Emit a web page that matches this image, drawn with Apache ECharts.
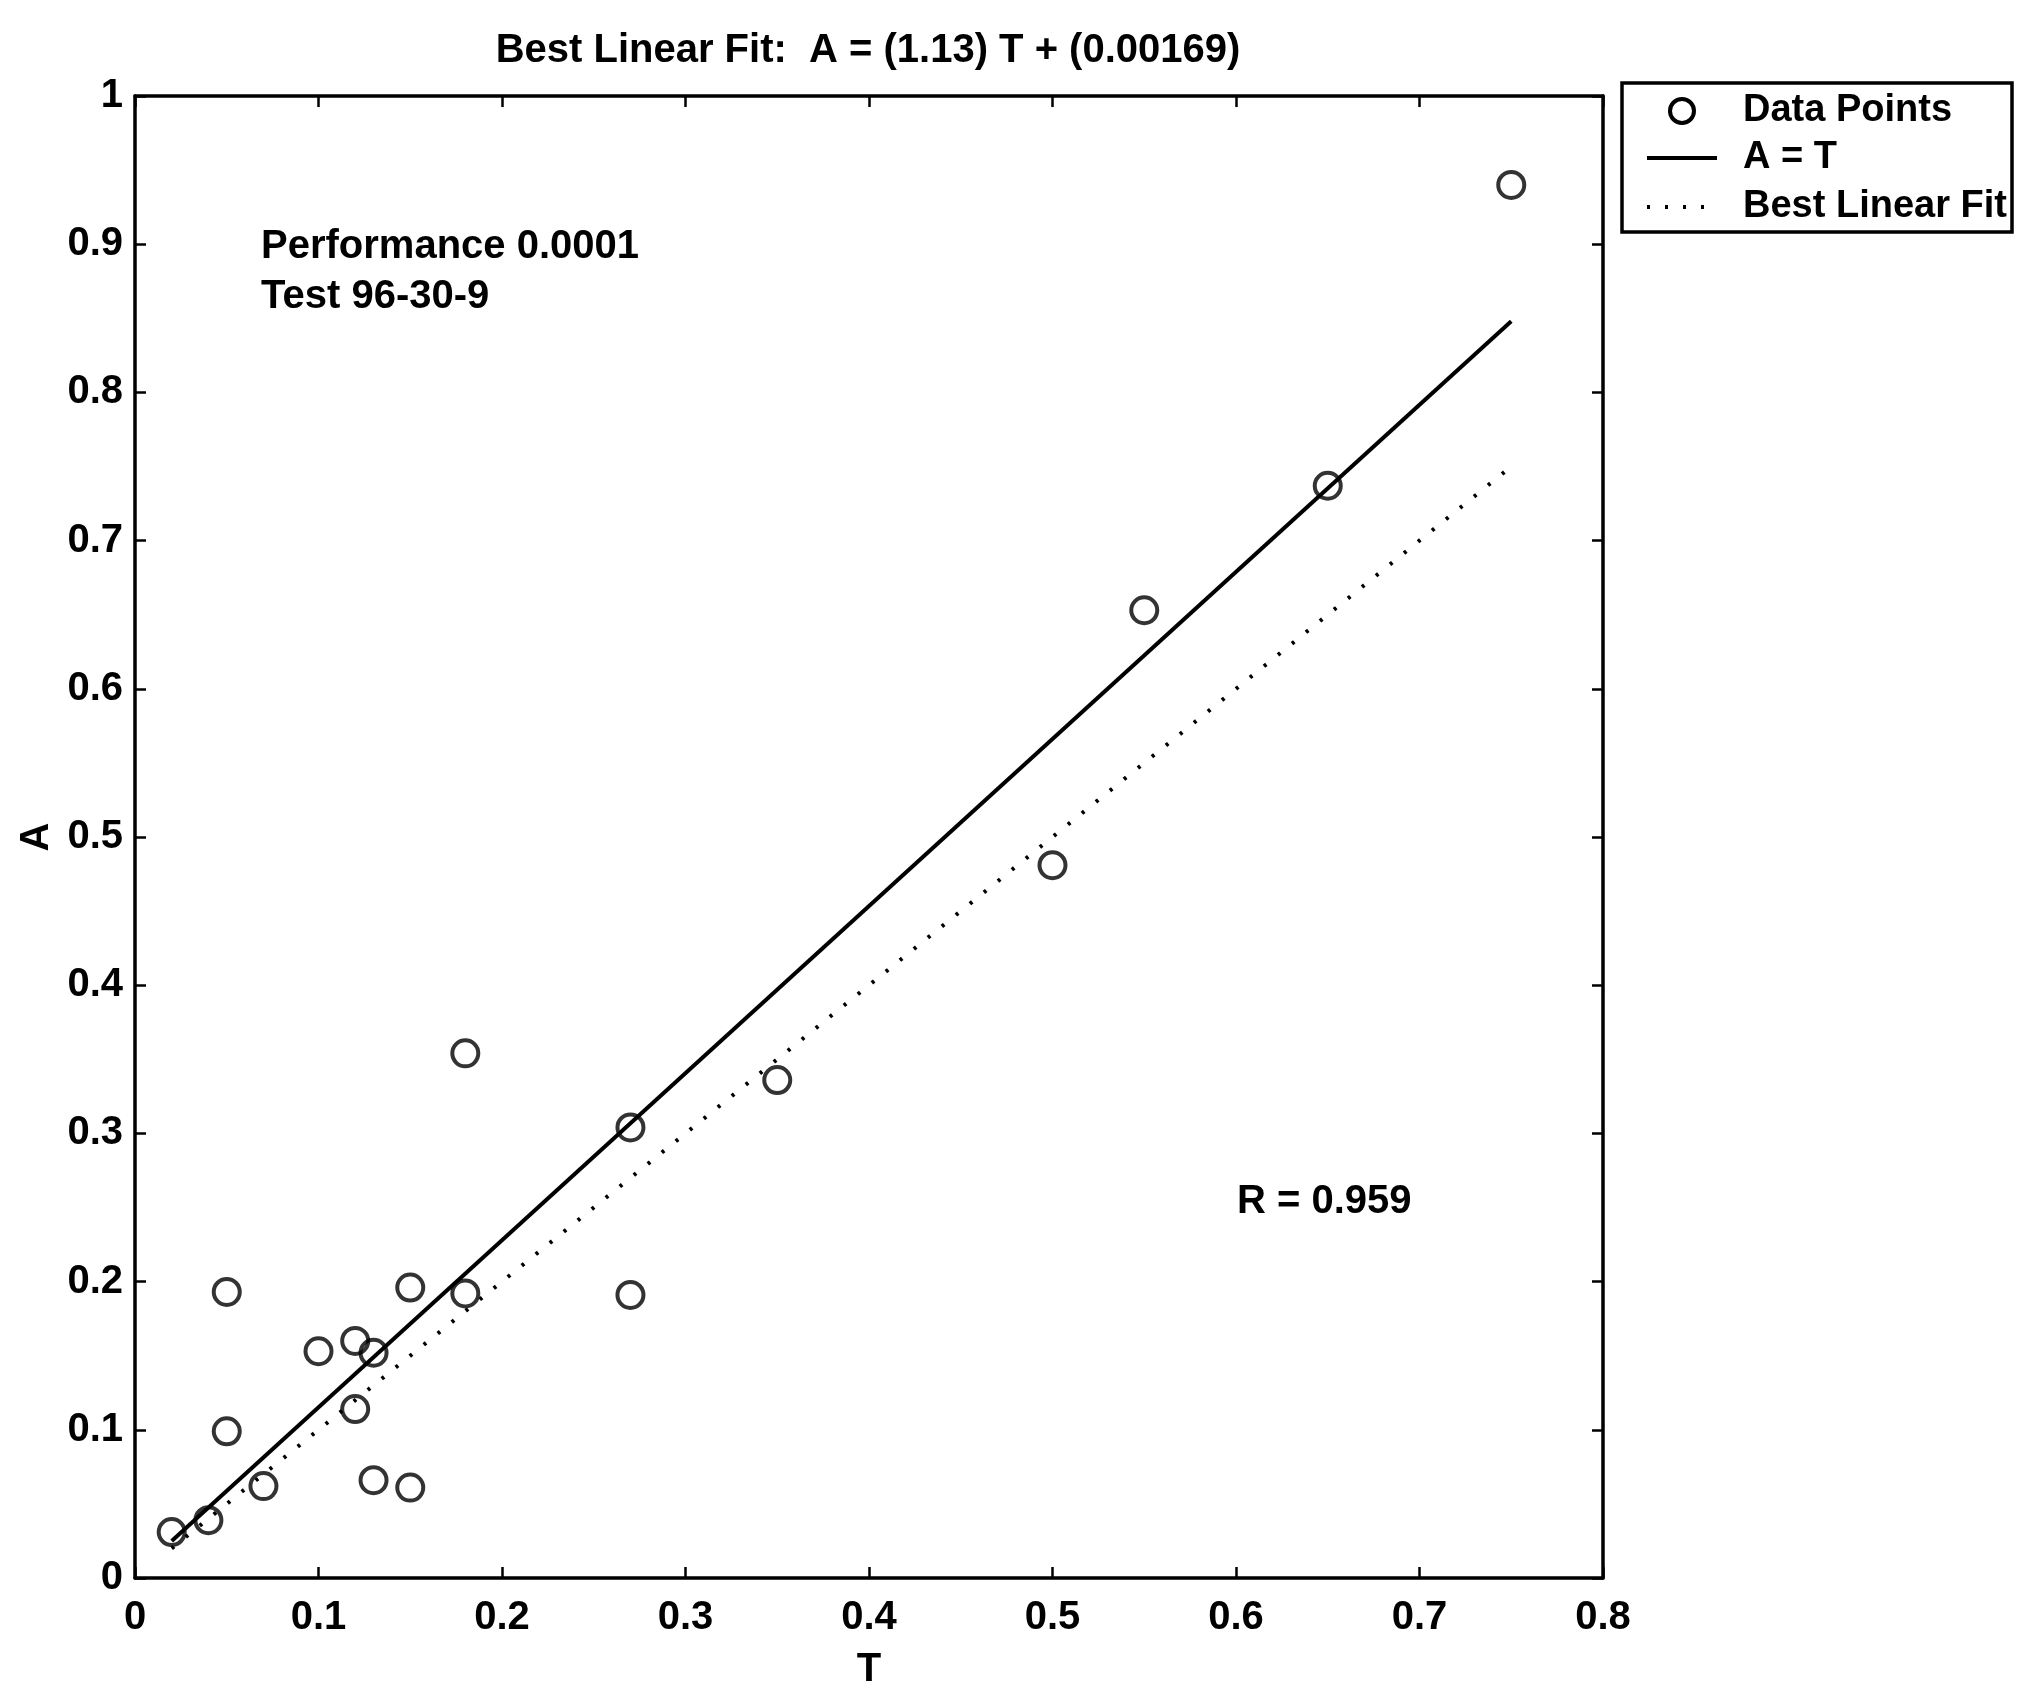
<!DOCTYPE html>
<html>
<head>
<meta charset="utf-8">
<script src="https://cdn.jsdelivr.net/npm/echarts@6/dist/echarts.min.js"></script>
<style>
  html, body { margin: 0; padding: 0; background: #fff; }
  #chart { width: 2036px; height: 1698px; }
</style>
</head>
<body>
<div id="chart"></div>
<script>
// values
var tValues = [0.02, 0.04, 0.05, 0.05, 0.07, 0.10, 0.12, 0.13, 0.12, 0.13, 0.15, 0.15, 0.18, 0.18, 0.27, 0.27, 0.35, 0.50, 0.55, 0.65, 0.75];
var aValues = [0.031, 0.039, 0.193, 0.099, 0.062, 0.153, 0.160, 0.152, 0.114, 0.066, 0.196, 0.061, 0.354, 0.192, 0.304, 0.191, 0.336, 0.481, 0.653, 0.737, 0.940];
// solid line (labelled "A = T" in the legend) end points
var solidT = [0.02, 0.75];
var solidA = [0.025, 0.848];
// dotted line (labelled "Best Linear Fit") end points
var dottedT = [0.02, 0.75];
var dottedA = [0.02, 0.75];

var xTicks = ["0", "0.1", "0.2", "0.3", "0.4", "0.5", "0.6", "0.7", "0.8"];
var yTicks = ["0", "0.1", "0.2", "0.3", "0.4", "0.5", "0.6", "0.7", "0.8", "0.9", "1"];
var legendNames = ["Data Points", "A = T", "Best Linear Fit"];

var FONT = "Liberation Sans";
var TXT = "bold 40px '" + FONT + "'";
var LEGEND_TXT = "bold 38px '" + FONT + "'";

function pairs(xs, ys) {
  return xs.map(function (x, i) { return [x, ys[i]]; });
}

function boxAxis(extra) {
  var base = {
    type: "value",
    axisLine: { show: true, onZero: false, lineStyle: { color: "#000", width: 3.5 } },
    axisTick: { show: true, inside: true, length: 11, lineStyle: { color: "#000", width: 2.5 } },
    splitLine: { show: false },
    axisLabel: { show: false }
  };
  return Object.assign(base, extra);
}

var labelStyle = { fontFamily: FONT, fontSize: 40, fontWeight: "bold", color: "#000" };

// legend drawn by hand: box, marker / line samples, texts
var legendRows = [111, 158, 207];
var legendGraphics = [
  {
    type: "rect",
    shape: { x: 1622, y: 83, width: 390, height: 149 },
    style: { fill: "none", stroke: "#000", lineWidth: 3.5 }
  },
  {
    type: "circle",
    shape: { cx: 1682, cy: legendRows[0], r: 12 },
    style: { fill: "none", stroke: "#000", lineWidth: 4 }
  },
  {
    type: "line",
    shape: { x1: 1647, y1: legendRows[1], x2: 1717, y2: legendRows[1] },
    style: { stroke: "#000", lineWidth: 4 }
  },
  {
    type: "line",
    shape: { x1: 1647, y1: legendRows[2], x2: 1717, y2: legendRows[2] },
    style: { stroke: "#000", lineWidth: 4, lineDash: [3, 15] }
  }
].concat(legendNames.map(function (name, i) {
  return {
    type: "text",
    x: 1743, y: legendRows[i],
    style: { text: name, font: LEGEND_TXT, fill: "#000", verticalAlign: "middle" }
  };
}));

var chart = echarts.init(document.getElementById("chart"));
chart.setOption({
  backgroundColor: "#fff",
  animation: false,
  color: ["#000"],
  textStyle: { fontFamily: FONT, color: "#000" },
  title: {
    text: "Best Linear Fit:  A = (1.13) T + (0.00169)",
    left: 863,
    top: 26,
    textAlign: "center",
    textStyle: { fontFamily: FONT, fontSize: 40, fontWeight: "bold", color: "#000" }
  },
  grid: { left: 135, top: 96, width: 1468, height: 1482 },
  xAxis: [
    boxAxis({
      position: "bottom",
      min: 0, max: 0.8, interval: 0.1,
      name: "T",
      nameLocation: "middle",
      nameGap: 72,
      nameTextStyle: labelStyle,
      axisLabel: Object.assign({
        show: true, margin: 20,
        formatter: function (v) { return xTicks[Math.round(v * 10)]; }
      }, labelStyle)
    }),
    boxAxis({ position: "top", min: 0, max: 0.8, interval: 0.1 })
  ],
  yAxis: [
    boxAxis({
      position: "left",
      min: 0, max: 1, interval: 0.1,
      name: "A",
      nameLocation: "middle",
      nameGap: 72,
      nameTextStyle: labelStyle,
      axisLabel: Object.assign({
        show: true, margin: 12,
        formatter: function (v) { return yTicks[Math.round(v * 10)]; }
      }, labelStyle)
    }),
    boxAxis({ position: "right", min: 0, max: 1, interval: 0.1 })
  ],
  graphic: legendGraphics.concat([
    {
      type: "text",
      x: 261, y: 222,
      style: {
        text: "Performance 0.0001\nTest 96-30-9",
        font: TXT,
        lineHeight: 50,
        fill: "#000"
      }
    },
    {
      type: "text",
      x: 1237, y: 1182,
      style: { text: "R = 0.959", font: TXT, fill: "#000" }
    }
  ]),
  series: [
    {
      name: legendNames[0],
      type: "scatter",
      data: pairs(tValues, aValues),
      symbol: "circle",
      symbolSize: 26,
      itemStyle: { color: "rgba(0,0,0,0)", borderColor: "#000", borderWidth: 4 },
      z: 3
    },
    {
      name: legendNames[1],
      type: "line",
      data: pairs(solidT, solidA),
      symbol: "none",
      lineStyle: { color: "#000", width: 4, type: "solid" }
    },
    {
      name: legendNames[2],
      type: "line",
      data: pairs(dottedT, dottedA),
      symbol: "none",
      lineStyle: { color: "#000", width: 4, type: [3, 15], cap: "butt" }
    }
  ]
});
</script>
</body>
</html>
